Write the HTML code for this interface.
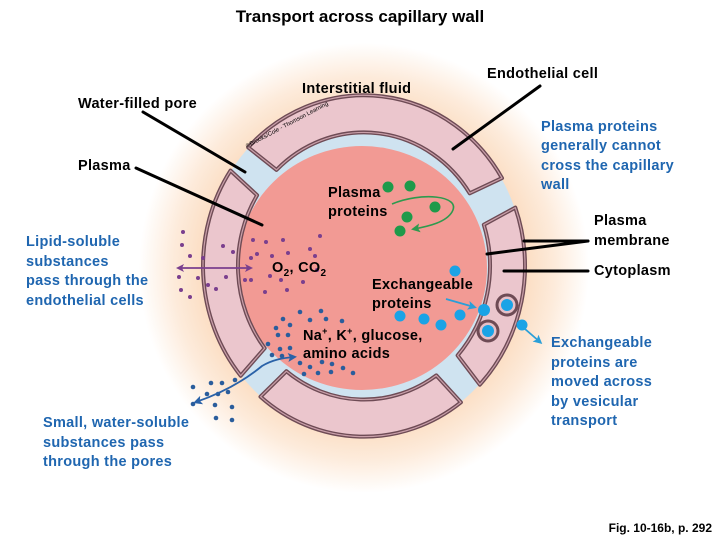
<!DOCTYPE html>
<html><head><meta charset="utf-8"><style>
html,body{margin:0;padding:0;background:#fff;}
body{width:720px;height:540px;overflow:hidden;position:relative;font-family:"Liberation Sans",Arial,sans-serif;}
svg{position:absolute;left:0;top:0;}
</style></head><body>
<svg width="720" height="540" viewBox="0 0 720 540" xmlns="http://www.w3.org/2000/svg" font-family="Liberation Sans, Arial, sans-serif">
<defs>
<radialGradient id="glow" cx="364" cy="268" r="225" gradientUnits="userSpaceOnUse">
<stop offset="0.7" stop-color="#fbdcc0"/>
<stop offset="0.85" stop-color="#fdebdb"/>
<stop offset="1" stop-color="#ffffff"/>
</radialGradient>
<marker id="ap" markerWidth="8" markerHeight="8" refX="6" refY="4" orient="auto-start-reverse" markerUnits="userSpaceOnUse"><path d="M0,0 L8,4 L0,8 L2,4Z" fill="#7a3f8e"/></marker>
<marker id="ag" markerWidth="9" markerHeight="9" refX="6" refY="4.5" orient="auto" markerUnits="userSpaceOnUse"><path d="M0,0 L9,4.5 L0,9 L2,4.5Z" fill="#2e9a4e"/></marker>
<marker id="al" markerWidth="9" markerHeight="9" refX="6" refY="4.5" orient="auto" markerUnits="userSpaceOnUse"><path d="M0,0 L9,4.5 L0,9 L2,4.5Z" fill="#2a9fd8"/></marker>
<marker id="ab" markerWidth="9" markerHeight="9" refX="6" refY="4.5" orient="auto-start-reverse" markerUnits="userSpaceOnUse"><path d="M0,0 L9,4.5 L0,9 L2,4.5Z" fill="#2a62a8"/></marker>
</defs>
<circle cx="364" cy="268" r="225" fill="url(#glow)"/>
<ellipse cx="364" cy="266" rx="160" ry="171" fill="#cfe3f0"/>
<ellipse cx="362" cy="268" rx="125" ry="122" fill="#f29a94"/>
<g id="cells"></g>

<!-- vesicles -->
<g stroke="#6e4b55" stroke-width="3" fill="#e6c0c8">
<circle cx="507" cy="305" r="10"/>
<circle cx="488" cy="331" r="10"/>
</g>
<g fill="#1aa3e6">
<circle cx="507" cy="305" r="6"/><circle cx="488" cy="331" r="6"/><circle cx="484" cy="310" r="6"/>
<circle cx="455" cy="271" r="5.5"/><circle cx="400" cy="316" r="5.5"/><circle cx="424" cy="319" r="5.5"/>
<circle cx="441" cy="325" r="5.5"/><circle cx="460" cy="315" r="5.5"/><circle cx="522" cy="325" r="5.5"/>
</g>
<line x1="446" y1="299" x2="474" y2="307" stroke="#2a9fd8" stroke-width="1.8" marker-end="url(#al)"/>
<line x1="525" y1="329" x2="540" y2="342" stroke="#2a9fd8" stroke-width="1.8" marker-end="url(#al)"/>

<!-- green -->
<g fill="#1e9a4a">
<circle cx="388" cy="187" r="5.5"/><circle cx="410" cy="186" r="5.5"/><circle cx="435" cy="207" r="5.5"/>
<circle cx="407" cy="217" r="5.5"/><circle cx="400" cy="231" r="5.5"/>
</g>
<path d="M392,204 C420,192 462,195 452,212 C446,222 430,226 414,229" fill="none" stroke="#2e9a4e" stroke-width="1.6" marker-end="url(#ag)"/>

<!-- purple dots -->
<g fill="#7a3f8e">
<circle cx="183" cy="232" r="2"/><circle cx="182" cy="245" r="2"/><circle cx="190" cy="256" r="2"/><circle cx="203" cy="258" r="2"/><circle cx="223" cy="246" r="2"/><circle cx="233" cy="252" r="2"/>
<circle cx="179" cy="277" r="2"/><circle cx="198" cy="278" r="2"/><circle cx="208" cy="285" r="2"/><circle cx="226" cy="277" r="2"/><circle cx="181" cy="290" r="2"/><circle cx="190" cy="297" r="2"/><circle cx="216" cy="289" r="2"/>
<circle cx="253" cy="240" r="2"/><circle cx="266" cy="242" r="2"/><circle cx="283" cy="240" r="2"/><circle cx="257" cy="254" r="2"/><circle cx="272" cy="256" r="2"/><circle cx="288" cy="253" r="2"/>
<circle cx="245" cy="280" r="2"/><circle cx="251" cy="258" r="2"/><circle cx="251" cy="280" r="2"/><circle cx="281" cy="280" r="2"/><circle cx="265" cy="292" r="2"/><circle cx="287" cy="290" r="2"/><circle cx="303" cy="282" r="2"/>
<circle cx="310" cy="249" r="2"/><circle cx="315" cy="256" r="2"/><circle cx="317" cy="270" r="2"/><circle cx="320" cy="236" r="2"/><circle cx="270" cy="276" r="2"/>
</g>
<line x1="178" y1="268" x2="251" y2="268" stroke="#7a3f8e" stroke-width="1.8" marker-start="url(#ap)" marker-end="url(#ap)"/>

<!-- blue dots -->
<g fill="#2a5d9c">
<circle cx="283" cy="319" r="2.3"/><circle cx="300" cy="312" r="2.3"/><circle cx="321" cy="311" r="2.3"/><circle cx="310" cy="320" r="2.3"/><circle cx="326" cy="319" r="2.3"/><circle cx="342" cy="321" r="2.3"/>
<circle cx="276" cy="328" r="2.3"/><circle cx="290" cy="325" r="2.3"/><circle cx="278" cy="335" r="2.3"/><circle cx="288" cy="335" r="2.3"/>
<circle cx="268" cy="344" r="2.3"/><circle cx="280" cy="349" r="2.3"/><circle cx="290" cy="348" r="2.3"/><circle cx="272" cy="355" r="2.3"/><circle cx="282" cy="356" r="2.3"/>
<circle cx="300" cy="363" r="2.3"/><circle cx="310" cy="367" r="2.3"/><circle cx="322" cy="362" r="2.3"/><circle cx="332" cy="364" r="2.3"/><circle cx="343" cy="368" r="2.3"/>
<circle cx="304" cy="374" r="2.3"/><circle cx="318" cy="373" r="2.3"/><circle cx="331" cy="372" r="2.3"/><circle cx="353" cy="373" r="2.3"/>
<circle cx="193" cy="387" r="2.3"/><circle cx="211" cy="383" r="2.3"/><circle cx="222" cy="383" r="2.3"/><circle cx="235" cy="380" r="2.3"/>
<circle cx="207" cy="394" r="2.3"/><circle cx="218" cy="394" r="2.3"/><circle cx="228" cy="392" r="2.3"/><circle cx="193" cy="404" r="2.3"/>
<circle cx="215" cy="405" r="2.3"/><circle cx="232" cy="407" r="2.3"/><circle cx="216" cy="418" r="2.3"/><circle cx="232" cy="420" r="2.3"/>
</g>
<path d="M196,402 C225,392 245,380 262,366 C272,360 282,358 294,357" fill="none" stroke="#2a62a8" stroke-width="1.8" marker-start="url(#ab)" marker-end="url(#ab)"/>

<!-- leader lines -->
<g stroke="#000" stroke-width="3" stroke-linecap="round">
<line x1="143" y1="112" x2="245" y2="172"/>
<line x1="136" y1="168" x2="262" y2="225"/>
<line x1="540" y1="86" x2="453" y2="149"/>
<line x1="588" y1="241" x2="487" y2="254"/>
<line x1="588" y1="241" x2="524" y2="241"/>
<line x1="588" y1="271" x2="504" y2="271"/>
</g>

<text x="360" y="22" text-anchor="middle" font-size="17" font-weight="bold">Transport across capillary wall</text>
<g font-size="14.5" font-weight="bold" letter-spacing="0.3" fill="#000">
<text x="302" y="93">Interstitial fluid</text>
<text x="487" y="78">Endothelial cell</text>
<text x="78" y="108">Water-filled pore</text>
<text x="78" y="170">Plasma</text>
<text x="328" y="197">Plasma</text>
<text x="328" y="216">proteins</text>
<text x="272" y="272">O<tspan font-size="10" dy="4">2</tspan><tspan dy="-4">, CO</tspan><tspan font-size="10" dy="4">2</tspan></text>
<text x="372" y="289">Exchangeable</text>
<text x="372" y="308">proteins</text>
<text x="303" y="340">Na<tspan font-size="9" dy="-6">+</tspan><tspan dy="6">, K</tspan><tspan font-size="9" dy="-6">+</tspan><tspan dy="6">, glucose,</tspan></text>
<text x="303" y="358">amino acids</text>
<text x="594" y="225">Plasma</text>
<text x="594" y="245">membrane</text>
<text x="594" y="275">Cytoplasm</text>
</g>
<g font-size="14.5" font-weight="bold" letter-spacing="0.3" fill="#1f66b0">
<text x="26" y="246">Lipid-soluble</text>
<text x="26" y="266">substances</text>
<text x="26" y="285">pass through the</text>
<text x="26" y="305">endothelial cells</text>
<text x="43" y="427">Small, water-soluble</text>
<text x="43" y="447">substances pass</text>
<text x="43" y="466">through the pores</text>
<text x="541" y="131">Plasma proteins</text>
<text x="541" y="150">generally cannot</text>
<text x="541" y="170">cross the capillary</text>
<text x="541" y="189">wall</text>
<text x="551" y="347">Exchangeable</text>
<text x="551" y="367">proteins are</text>
<text x="551" y="386">moved across</text>
<text x="551" y="406">by vesicular</text>
<text x="551" y="425">transport</text>
</g>
<text x="712" y="532" text-anchor="end" font-size="12" font-weight="bold">Fig. 10-16b, p. 292</text>
<text x="0" y="0" font-size="6" transform="translate(247,148) rotate(-28)">©Brooks/Cole - Thomson Learning</text>
</svg>
<script>
(function(){
var cx=364,cy=266,R=161,r=126,g=document.getElementById('cells');
var cells=[[-136,-31],[-20,44],[53,130],[140,214]];
function p(rad,a){a=a*Math.PI/180;return (cx+rad*Math.cos(a)).toFixed(1)+','+(cy+rad*1.06*Math.sin(a)).toFixed(1);}
var h='';
cells.forEach(function(c){
 var a1=c[0],a2=c[1],L=(a2-a1)>180?1:0;
 var d='M'+p(R,a1)+' A'+R+','+(R*1.06)+' 0 '+L+' 1 '+p(R,a2)+' L'+p(r,a2-2)+' A'+r+','+(r*1.06)+' 0 '+L+' 0 '+p(r,a1+2)+' Z';
 h+='<path d="'+d+'" fill="#ebc6cd" stroke="#6e4b55" stroke-width="4" stroke-linejoin="round"/>';
 h+='<path d="'+d+'" fill="none" stroke="#caa0aa" stroke-width="1.2" stroke-linejoin="round"/>';
});
g.innerHTML=h;
})();
</script>
</body></html>
